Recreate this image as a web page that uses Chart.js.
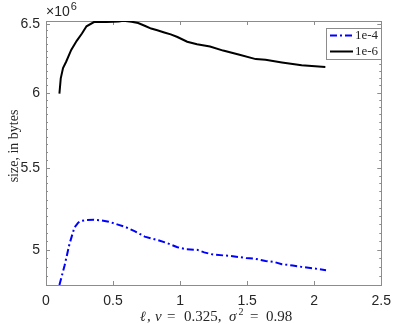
<!DOCTYPE html>
<html><head><meta charset="utf-8">
<script src="https://cdn.jsdelivr.net/npm/chart.js@4/dist/chart.umd.min.js"></script>
<style>html,body{margin:0;padding:0;background:#fff;}#wrap{width:399px;height:324px;}</style>
</head><body><div id="wrap"><canvas id="c" width="399" height="324"></canvas></div>
<script>
// ---- data (y in units of 10^6 bytes) ----
const xTicks = [0, 0.5, 1, 1.5, 2, 2.5];
const yTicks = [5, 5.5, 6, 6.5];
const seriesNames = ['1e-4', '1e-6'];

const xA = [0.10, 0.139, 0.175, 0.212, 0.24, 0.261, 0.30, 0.358, 0.41, 0.468, 0.53, 0.59, 0.66, 0.736, 0.833, 0.90, 0.98, 1.05, 1.126, 1.18, 1.248, 1.369, 1.491, 1.56, 1.637, 1.70, 1.759, 1.84, 1.906, 2.00, 2.088];
const yA = [4.80, 4.911, 5.034, 5.131, 5.160, 5.170, 5.176, 5.178, 5.174, 5.166, 5.150, 5.135, 5.110, 5.077, 5.057, 5.040, 5.015, 5.003, 5.000, 4.985, 4.972, 4.965, 4.953, 4.948, 4.936, 4.930, 4.917, 4.910, 4.902, 4.893, 4.883];

const xB = [0.10, 0.11, 0.127, 0.151, 0.188, 0.229, 0.268, 0.302, 0.358, 0.395, 0.45, 0.50, 0.541, 0.577, 0.638, 0.687, 0.74, 0.784, 0.83, 0.882, 0.93, 0.98, 1.053, 1.126, 1.223, 1.321, 1.443, 1.564, 1.637, 1.759, 1.906, 2.083];
const yB = [5.993, 6.10, 6.174, 6.221, 6.305, 6.372, 6.426, 6.480, 6.512, 6.515, 6.513, 6.514, 6.516, 6.522, 6.515, 6.505, 6.482, 6.463, 6.450, 6.434, 6.420, 6.400, 6.365, 6.346, 6.330, 6.300, 6.269, 6.238, 6.233, 6.214, 6.193, 6.181];

const AXC = '#8c8c8c';
const TXT = '#262626';

const framePlugin = {
  id: 'frame',
  beforeDatasetsDraw(chart) {
    const {ctx, chartArea: a, scales: {x, y}} = chart;
    ctx.save();
    ctx.strokeStyle = AXC;
    ctx.lineWidth = 1;
    ctx.strokeRect(Math.round(a.left) + 0.5, Math.round(a.top) + 0.5, Math.round(a.right - a.left), Math.round(a.bottom - a.top));
    ctx.beginPath();
    xTicks.forEach(v => {
      const p = Math.round(x.getPixelForValue(v)) + 0.5;
      ctx.moveTo(p, a.bottom); ctx.lineTo(p, a.bottom - 4);
      ctx.moveTo(p, a.top); ctx.lineTo(p, a.top + 4);
    });
    for (let k = 97; k <= 130; k++) {
      const v = k * 0.05;
      const p = Math.round(y.getPixelForValue(v)) + 0.5;
      const major = (k % 10 === 0);
      const len = major ? 4 : 2;
      ctx.moveTo(a.left, p); ctx.lineTo(a.left + len, p);
      ctx.moveTo(a.right, p); ctx.lineTo(a.right - len, p);
    }
    ctx.stroke();
    ctx.restore();
  },
  afterDraw(chart) {
    const {ctx, chartArea: a} = chart;
    ctx.save();
    // exponent label
    ctx.fillStyle = TXT;
    ctx.textBaseline = 'alphabetic';
    ctx.textAlign = 'left';
    ctx.font = '14px "Liberation Sans"';
    ctx.fillText('\u00d710', a.left, 16);
    const w = ctx.measureText('\u00d710').width;
    ctx.font = '11px "Liberation Sans"';
    ctx.fillText('6', a.left + w + 1, 10);

    // y title
    ctx.save();
    ctx.translate(18, 146);
    ctx.rotate(-Math.PI / 2);
    ctx.font = '14px "Liberation Serif"';
    ctx.textAlign = 'center';
    ctx.fillText('size, in bytes', 0, 0);
    ctx.restore();

    // x title with italics (LaTeX-like spacing)
    const segs = [
      {t: '\u2113', f: 'italic 14px "DejaVu Serif"', x: 140, dy: 0},
      {t: ',', f: '15px "Liberation Serif"', x: 147, dy: 0},
      {t: '\u03bd', f: 'italic 15px "Liberation Serif"', x: 155, dy: 0},
      {t: '=', f: '15px "Liberation Serif"', x: 167, dy: 0},
      {t: '0.325,', f: '15px "Liberation Serif"', x: 184, dy: 0},
      {t: '\u03c3', f: 'italic 15px "Liberation Serif"', x: 229, dy: 0},
      {t: '2', f: '10px "Liberation Serif"', x: 238.5, dy: -6},
      {t: '=', f: '15px "Liberation Serif"', x: 250, dy: 0},
      {t: '0.98', f: '15px "Liberation Serif"', x: 266, dy: 0}
    ];
    ctx.textAlign = 'left';
    segs.forEach(s => { ctx.font = s.f; ctx.fillText(s.t, s.x, 321 + s.dy); });

    // legend
    const lx = 326, ly = 28, lw = 55, lh = 31;
    ctx.fillStyle = '#fff';
    ctx.fillRect(lx, ly, lw, lh);
    ctx.strokeStyle = AXC;
    ctx.lineWidth = 1;
    ctx.strokeRect(lx + 0.5, ly + 0.5, lw, lh);
    const ds = chart.data.datasets;
    [35.5, 51.5].forEach((yy, i) => {
      ctx.beginPath();
      ctx.strokeStyle = ds[i].borderColor;
      ctx.lineWidth = 2;
      ctx.setLineDash(ds[i].borderDash || []);
      ctx.moveTo(330, yy); ctx.lineTo(353, yy);
      ctx.stroke();
      ctx.setLineDash([]);
      ctx.fillStyle = TXT;
      ctx.font = '13px "Liberation Serif"';
      ctx.textBaseline = 'middle';
      ctx.fillText(seriesNames[i], 355, yy);
    });
    ctx.restore();
  }
};

const ctx = document.getElementById('c').getContext('2d');
new Chart(ctx, {
  type: 'line',
  data: {
    datasets: [
      {label: seriesNames[0], data: xA.map((x, i) => ({x, y: yA[i]})), borderColor: '#0000ff', borderWidth: 2, borderDash: [7, 3, 2, 3], pointRadius: 0, fill: false, tension: 0},
      {label: seriesNames[1], data: xB.map((x, i) => ({x, y: yB[i]})), borderColor: '#000000', borderWidth: 2, pointRadius: 0, fill: false, tension: 0}
    ]
  },
  options: {
    responsive: false, animation: false, devicePixelRatio: 1,
    layout: {padding: {top: 21, right: 11, left: 0, bottom: 0}},
    plugins: {legend: {display: false}, tooltip: {enabled: false}},
    scales: {
      x: {
        type: 'linear', min: 0, max: 2.5,
        afterBuildTicks: s => { s.ticks = xTicks.map(v => ({value: v})); },
        ticks: {callback: v => String(v), font: {family: 'Liberation Sans', size: 14}, color: TXT, padding: 8, maxRotation: 0, autoSkip: false},
        grid: {display: false, drawTicks: false}, border: {display: false},
        afterFit: s => { s.height = 39; }
      },
      y: {
        type: 'logarithmic', min: 4.82, max: 6.52,
        afterBuildTicks: s => { s.ticks = yTicks.map(v => ({value: v})); },
        ticks: {callback: v => String(v), font: {family: 'Liberation Sans', size: 14}, color: TXT, padding: 6, autoSkip: false},
        grid: {display: false, drawTicks: false}, border: {display: false},
        afterFit: s => { s.width = 46; }
      }
    }
  },
  plugins: [framePlugin]
});
</script>
</body></html>
